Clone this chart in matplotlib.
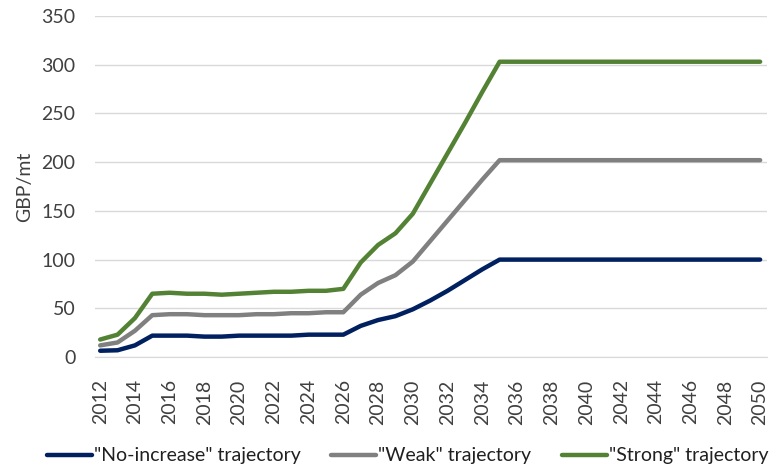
import numpy as np
import matplotlib.pyplot as plt

years = list(range(2012, 2051))

no_increase = [6.5, 7, 12, 22, 22, 22, 21, 21, 22, 22, 22, 22, 23, 23, 23,
               32, 38, 42, 49, 58, 68, 79, 90, 100] + [100] * 15
weak = [12, 15, 27, 43, 44, 44, 43, 43, 43, 44, 44, 45, 45, 46, 46,
        64, 76, 84, 98, 119, 140, 161, 182, 202] + [202] * 15
strong = [18, 23, 40, 65, 66, 65, 65, 64, 65, 66, 67, 67, 68, 68, 70,
          97, 115, 127, 147, 178, 209, 240, 272, 303] + [303] * 15

labels = ['"No-increase" trajectory', '"Weak" trajectory', '"Strong" trajectory']
colors = ['#002060', '#808080', '#548235']

plt.rcParams['font.family'] = ['Lato', 'DejaVu Sans']

fig = plt.figure(figsize=(7.69, 4.68), dpi=100)
ax = fig.add_axes([0.1235, 0.237, 0.874, 0.729])

for ys, lab, c in zip([no_increase, weak, strong], labels, colors):
    ax.plot(years, ys, color=c, lw=3.2, label=lab, solid_capstyle='round')

ax.set_ylim(0, 350)
ax.set_xlim(2011.7, 2050.4)
ax.set_yticks(range(0, 351, 50))
ax.set_xticks(years[::2])
ax.set_xticklabels([str(y) for y in years[::2]], rotation=90)
ax.tick_params(length=0, labelsize=14, colors='#404040')
ax.tick_params(axis='x', pad=16)
ax.tick_params(axis='y', pad=14)
ax.grid(axis='y', color='#D9D9D9', lw=1)
ax.set_axisbelow(True)
for s in ['top', 'right', 'left']:
    ax.spines[s].set_visible(False)
ax.spines['bottom'].set_color('#D9D9D9')
ax.set_ylabel('GBP/mt', fontsize=14, color='#404040', labelpad=6)

fig.legend(loc='center', bbox_to_anchor=(0.53, 0.026), ncol=3, frameon=False,
           fontsize=14, handlelength=2.3, handletextpad=0.1, columnspacing=1.6,
           labelcolor='#202020')

fig.savefig('out.png', dpi=100)
